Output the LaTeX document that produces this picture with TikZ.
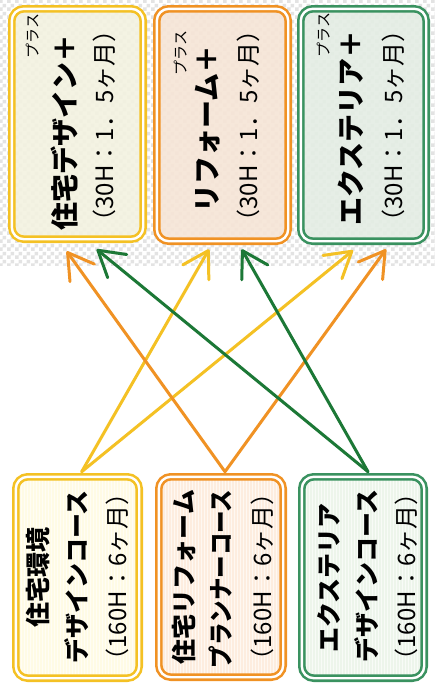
\documentclass[tikz,border=0pt]{standalone}
\usepackage{fontspec}
\setmainfont{Noto Sans CJK JP}
\usetikzlibrary{arrows.meta,patterns,calc}
\pgfdeclarepatternformonly{mychecker}{\pgfpointorigin}{\pgfqpoint{8pt}{8pt}}{\pgfqpoint{8pt}{8pt}}{%
  \pgfpathrectangle{\pgfpointorigin}{\pgfqpoint{4pt}{4pt}}%
  \pgfpathrectangle{\pgfqpoint{4pt}{4pt}}{\pgfqpoint{4pt}{4pt}}%
  \pgfusepath{fill}}
\definecolor{cY}{RGB}{244,193,36}
\definecolor{cO}{RGB}{240,146,36}
\definecolor{cG}{RGB}{58,146,96}
\definecolor{cGa}{RGB}{28,120,54}
\definecolor{fY}{RGB}{243,242,224}
\definecolor{fO}{RGB}{246,229,214}
\definecolor{fG}{RGB}{228,237,228}
\definecolor{gY}{RGB}{255,251,229}
\definecolor{gO}{RGB}{253,237,223}
\definecolor{gG}{RGB}{237,245,235}
\begin{document}
\begin{tikzpicture}[x=1pt,y=-1pt,
  box/.style={draw=#1, double=white, line width=2.6pt, double distance=2.4pt,
    rounded corners=12pt, inner sep=0pt},
  topbox/.style 2 args={box=#1, fill=#2, fill opacity=0.9},
  botbox/.style 2 args={box=#1, preaction={fill=#2}, pattern=vertical lines, pattern color=white!60!#2},
  tx/.style={rotate=90, inner sep=0pt, text=black},
  tmain/.style={tx, font=\fontsize{28}{30}\selectfont\bfseries},
  tsub/.style={tx, font=\fontsize{24}{26}\selectfont},
  truby/.style={tx, font=\fontsize{15}{16}\selectfont},
  bmain/.style={tx, font=\fontsize{25}{27}\selectfont\bfseries},
  arr/.style={draw=#1, line width=3pt, line cap=round, line join=round,
    -{Straight Barb[length=25pt,width=30pt,round]}}]
\useasboundingbox (0,0) rectangle (435,683);
\fill[white] (0,0) rectangle (435,683);
\fill[pattern=mychecker, pattern color=gray!22] (0,0) rectangle (435,265);

% top boxes
\node[topbox={cY}{fY}, minimum width=131.4pt, minimum height=230.4pt] (b1) at (77.5,124) {};
\node[topbox={cO}{fO}, minimum width=131.4pt, minimum height=232.4pt] (b2) at (222.5,125) {};
\node[topbox={cG}{fG}, minimum width=125.4pt, minimum height=232.4pt] (b3) at (363.5,125) {};
% bottom boxes
\node[botbox={cY}{gY}, minimum width=123.4pt, minimum height=201.4pt] (b4) at (77.5,577.5) {};
\node[botbox={cO}{gO}, minimum width=124.4pt, minimum height=200.4pt] (b5) at (221,577) {};
\node[botbox={cG}{gG}, minimum width=122.4pt, minimum height=201.4pt] (b6) at (363,577.5) {};

% top texts
\node[truby] (r1) at (33,36) {プラス};
\node[tmain] (m1) at (64,132.5) {住宅デザイン＋};
\node[tsub] (s1) at (104,126) {（30H：1．5ヶ月）};
\node[truby] (r2) at (181,53) {プラス};
\node[tmain] (m2) at (207.5,129) {リフォーム＋};
\node[tsub] (s2) at (248,126) {（30H：1．5ヶ月）};
\node[truby] (r3) at (324,35) {プラス};
\node[tmain] (m3) at (351,128) {エクステリア＋};
\node[tsub] (s3) at (393,126) {（30H：1．5ヶ月）};

% bottom texts
\node[bmain] (p4a) at (38.5,577) {住宅環境};
\node[bmain] (p4b) at (76.5,577) {デザインコース};
\node[tsub] (p4c) at (117,577) {（160H：6ヶ月）};
\node[bmain] (p5a) at (183.5,577) {住宅リフォーム};
\node[bmain] (p5b) at (221,579) {\scalebox{0.9}[1]{プランナーコース}};
\node[tsub] (p5c) at (262,577) {（160H：6ヶ月）};
\node[bmain] (p6a) at (328.5,578) {エクステリア};
\node[bmain] (p6b) at (366.5,576) {デザインコース};
\node[tsub] (p6c) at (406,577) {（160H：6ヶ月）};

% arrows
\draw[arr=cY] ($(b4.north)+(4.2,-3.8)$) -- ($(b2.south)+(-13.5,6.8)$);
\draw[arr=cY] ($(b4.north)+(4.2,-3.8)$) -- ($(b3.south)+(-10.5,7.8)$);
\draw[arr=cO] ($(b5.north)+(4,-3.8)$) -- ($(b1.south)+(-10.8,10.8)$);
\draw[arr=cO] ($(b5.north)+(4,-3.8)$) -- ($(b3.south)+(22.5,6.8)$);
\draw[arr=cGa] ($(b6.north)+(5,-3.8)$) -- ($(b1.south)+(19.2,8.8)$);
\draw[arr=cGa] ($(b6.north)+(5,-3.8)$) -- ($(b2.south)+(19.2,6.8)$);
\end{tikzpicture}
\end{document}
